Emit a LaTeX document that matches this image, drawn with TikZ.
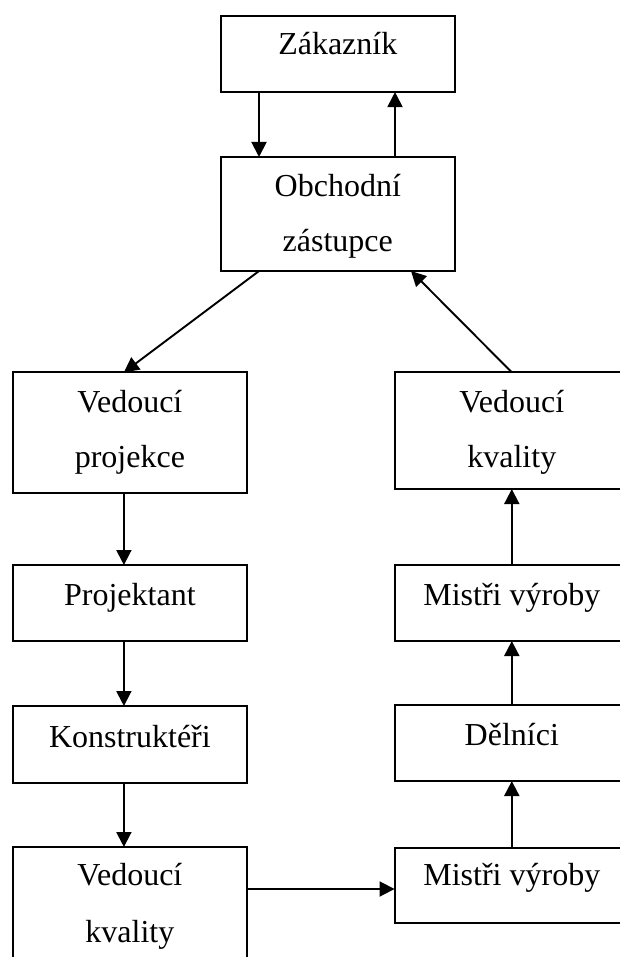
\documentclass[tikz,border=0pt]{standalone}
\usepackage{fontspec}
\setmainfont{Liberation Serif}
\usetikzlibrary{arrows.meta}
\tikzset{
  box/.style={draw, line width=1.9pt, minimum width=234.5pt, inner sep=0pt, outer sep=0pt},
  txt/.style={anchor=base, inner sep=0pt, font=\fontsize{32}{32}\selectfont},
  arr/.style={line width=1.9pt, -{Triangle[width=15pt,length=15pt]}}
}
\begin{document}
\begin{tikzpicture}[x=1pt,y=-1pt]
\useasboundingbox (0,0) rectangle (620,957);
\clip (0,0) rectangle (620,957);
% boxes
\node[box, minimum height=76.3pt] (zak) at (337.8,53.9) {};
\node[box, minimum height=114pt] (obc) at (337.8,214) {};
\node[box, minimum height=120.7pt] (vp) at (129.9,432.7) {};
\node[box, minimum height=76pt] (proj) at (129.9,603) {};
\node[box, minimum height=77pt] (kon) at (129.9,744.5) {};
\node[box, minimum height=120pt] (vkl) at (129.9,907) {};
\node[box, minimum height=116.7pt] (vkr) at (511.8,430.7) {};
\node[box, minimum height=76pt] (mvu) at (511.8,603) {};
\node[box, minimum height=76pt] (del) at (511.8,743) {};
\node[box, minimum height=75pt] (mvl) at (511.8,885.5) {};
% texts
\node[txt] (tzak) at ([yshift=-39pt]zak.north) {Zákazník};
\node[txt] (tobc1) at ([yshift=-40pt]obc.north) {Obchodní};
\node[txt] (tobc2) at ([yshift=-95pt]obc.north) {zástupce};
\node[txt] (tvp1) at ([yshift=-40pt]vp.north) {Vedoucí};
\node[txt] (tvp2) at ([yshift=-95pt]vp.north) {projekce};
\node[txt] (tproj) at ([yshift=-40pt]proj.north) {Projektant};
\node[txt] (tkon) at ([yshift=-41pt]kon.north) {Konstruktéři};
\node[txt] (tvkl1) at ([yshift=-38pt]vkl.north) {Vedoucí};
\node[txt] (tvkl2) at ([yshift=-95pt]vkl.north) {kvality};
\node[txt] (tvkr1) at ([yshift=-40pt]vkr.north) {Vedoucí};
\node[txt] (tvkr2) at ([yshift=-95pt]vkr.north) {kvality};
\node[txt] (tmvu) at ([yshift=-40pt]mvu.north) {Mistři výroby};
\node[txt] (tdel) at ([yshift=-40pt]del.north) {Dělníci};
\node[txt] (tmvl) at ([yshift=-37pt]mvl.north) {Mistři výroby};
% connectors
\draw[arr] ([xshift=-78.8pt]zak.south) -- ([xshift=-78.8pt]obc.north);
\draw[arr] ([xshift=57.2pt]obc.north) -- ([xshift=57.2pt]zak.south);
\draw[arr] ([xshift=-78.8pt]obc.south) -- ([xshift=-6pt]vp.north);
\draw[arr] (vkr.north) -- ([xshift=73.2pt]obc.south);
\draw[arr] ([xshift=-6pt]vp.south) -- ([xshift=-6pt]proj.north);
\draw[arr] ([xshift=-6pt]proj.south) -- ([xshift=-6pt]kon.north);
\draw[arr] ([xshift=-6pt]kon.south) -- ([xshift=-6pt]vkl.north);
\coordinate (h) at (0,889);
\draw[arr] (vkl.east |- h) -- (mvl.west |- h);
\draw[arr] (mvl.north) -- (del.south);
\draw[arr] (del.north) -- (mvu.south);
\draw[arr] (mvu.north) -- (vkr.south);
\end{tikzpicture}
\end{document}
